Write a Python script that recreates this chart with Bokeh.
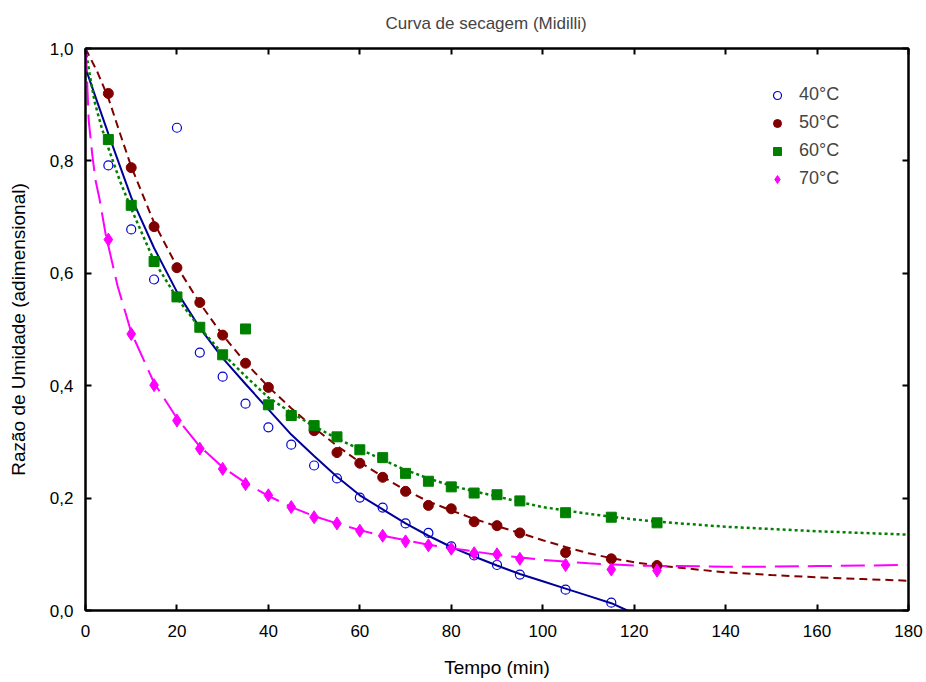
from bokeh.plotting import figure
from bokeh.models import (LinearAxis, FixedTicker, CustomJSTickFormatter, Range1d,
                          Legend, LegendItem)
from bokeh.embed import file_html
from bokeh.resources import INLINE

# ---- experimental data (Tempo em min, Razão de Umidade) ----
t40 = [5, 10, 15, 20, 25, 30, 35, 40, 45, 50, 55, 60, 65, 70, 75, 80, 85, 90, 95, 105, 115]
mr40 = [0.792, 0.678, 0.589, 0.859, 0.459, 0.416, 0.368, 0.326, 0.295, 0.258, 0.235,
        0.201, 0.183, 0.155, 0.138, 0.114, 0.098, 0.081, 0.064, 0.037, 0.014]

t50 = [5, 10, 15, 20, 25, 30, 35, 40, 45, 50, 55, 60, 65, 70, 75, 80, 85, 90, 95, 105, 115, 125]
mr50 = [0.920, 0.788, 0.683, 0.610, 0.548, 0.490, 0.440, 0.397, 0.347, 0.320, 0.281,
        0.262, 0.237, 0.212, 0.187, 0.181, 0.158, 0.151, 0.138, 0.103, 0.092, 0.080]

t60 = [5, 10, 15, 20, 25, 30, 35, 40, 45, 50, 55, 60, 65, 70, 75, 80, 85, 90, 95, 105, 115, 125]
mr60 = [0.838, 0.721, 0.621, 0.558, 0.504, 0.455, 0.501, 0.366, 0.347, 0.329, 0.309,
        0.286, 0.272, 0.244, 0.230, 0.220, 0.209, 0.206, 0.195, 0.174, 0.166, 0.156]

t70 = [5, 10, 15, 20, 25, 30, 35, 40, 45, 50, 55, 60, 65, 70, 75, 80, 85, 90, 95, 105, 115, 125]
mr70 = [0.660, 0.492, 0.401, 0.338, 0.288, 0.252, 0.225, 0.205, 0.184, 0.166, 0.155,
        0.142, 0.133, 0.123, 0.116, 0.110, 0.102, 0.100, 0.092, 0.081, 0.073, 0.071]

# ---- fitted Midilli curves ----
ft40 = [0, 5, 10, 15, 20, 25, 30, 35, 40, 45, 50, 55, 60, 65, 70, 75, 80, 85, 90, 95,
        100, 105, 110, 115, 118.5]
fmr40 = [0.965, 0.848, 0.735, 0.645, 0.567, 0.503, 0.449, 0.403, 0.358, 0.313, 0.275,
         0.238, 0.205, 0.180, 0.155, 0.133, 0.113, 0.096, 0.080, 0.065, 0.052, 0.039,
         0.026, 0.013, 0.0]

ft50 = [0, 2.5, 5, 7.5, 10, 15, 20, 25, 30, 35, 40, 45, 50, 55, 60, 65, 70, 75, 80, 85,
        90, 95, 100, 105, 110, 115, 120, 125, 130, 140, 150, 160, 170, 180]
fmr50 = [1.0, 0.960, 0.912, 0.850, 0.790, 0.690, 0.612, 0.547, 0.490, 0.441, 0.398,
         0.360, 0.325, 0.293, 0.264, 0.238, 0.214, 0.194, 0.178, 0.163, 0.150, 0.138,
         0.125, 0.113, 0.102, 0.093, 0.086, 0.080, 0.076, 0.068, 0.063, 0.059, 0.056, 0.053]

ft60 = [0, 1, 2, 3.5, 5, 7.5, 10, 15, 20, 25, 30, 35, 40, 45, 50, 55, 60, 65, 70, 75, 80,
        85, 90, 95, 100, 110, 120, 130, 140, 150, 160, 170, 180]
fmr60 = [1.0, 0.950, 0.905, 0.860, 0.823, 0.765, 0.715, 0.622, 0.556, 0.503, 0.457,
         0.417, 0.379, 0.352, 0.328, 0.306, 0.287, 0.268, 0.250, 0.235, 0.222, 0.212,
         0.203, 0.193, 0.184, 0.172, 0.162, 0.155, 0.149, 0.145, 0.141, 0.138, 0.135]

ft70 = [0, 0.2, 0.7, 1.5, 2.2, 3, 4.4, 7, 10, 15, 20, 25, 30, 35, 40, 45, 50, 55, 60, 65,
        70, 75, 80, 90, 100, 110, 120, 130, 140, 150, 160, 170, 180]
fmr70 = [1.0, 0.975, 0.872, 0.810, 0.765, 0.735, 0.670, 0.578, 0.495, 0.405, 0.342,
         0.292, 0.255, 0.227, 0.204, 0.184, 0.168, 0.155, 0.143, 0.133, 0.125, 0.117,
         0.111, 0.099, 0.090, 0.084, 0.080, 0.079, 0.078, 0.078, 0.079, 0.080, 0.081]

x_ticks = [0, 20, 40, 60, 80, 100, 120, 140, 160, 180]
y_ticks = [0.0, 0.2, 0.4, 0.6, 0.8, 1.0]
labels = ["40°C", "50°C", "60°C", "70°C"]

FONT = "Liberation Sans"

p = figure(width=926, height=682, x_range=Range1d(0, 180), y_range=Range1d(0, 1.0),
           output_backend="svg", toolbar_location=None,
           min_border_left=85, min_border_right=18, min_border_top=48, min_border_bottom=72,
           x_axis_location=None, y_axis_location=None,
           title="Curva de secagem (Midilli)")
p.title.align = "left"
p.title.offset = 300
p.title.vertical_align = "top"
p.title.text_font = FONT
p.title.text_font_size = "17px"
p.title.text_font_style = "normal"
p.title.standoff = 27
p.xgrid.grid_line_color = None
p.ygrid.grid_line_color = None
p.outline_line_color = "black"
p.outline_line_width = 2
p.background_fill_color = "white"

fmt_y = CustomJSTickFormatter(code="return tick.toFixed(1).replace('.', ',');")
fmt_blank = CustomJSTickFormatter(code="return '';")

bottom = LinearAxis(ticker=FixedTicker(ticks=x_ticks), axis_label="Tempo (min)",
                    major_label_standoff=14, axis_label_standoff=17)
left = LinearAxis(ticker=FixedTicker(ticks=y_ticks), formatter=fmt_y,
                  axis_label="Razão de Umidade (adimensional)",
                  major_label_standoff=12, axis_label_standoff=18)
top = LinearAxis(ticker=FixedTicker(ticks=x_ticks), formatter=fmt_blank,
                 major_label_standoff=0)
right = LinearAxis(ticker=FixedTicker(ticks=y_ticks), formatter=fmt_blank,
                   major_label_standoff=0)
p.add_layout(bottom, "below")
p.add_layout(left, "left")
p.add_layout(top, "above")
p.add_layout(right, "right")

for ax in [bottom, left, top, right]:
    ax.major_tick_in = 6
    ax.major_tick_out = 0
    ax.minor_tick_line_color = None
    ax.axis_line_width = 2
    ax.major_tick_line_width = 2
    ax.axis_line_color = "black"
    ax.major_tick_line_color = "black"
    ax.major_label_text_font = FONT
    ax.major_label_text_color = "black"
    ax.axis_label_text_font = FONT
    ax.axis_label_text_font_style = "normal"
    ax.axis_label_text_color = "black"
for ax in [bottom, left]:
    ax.major_label_text_font_size = "17px"
    ax.axis_label_text_font_size = "19px"

# fitted curves
p.line(ft40, fmr40, line_color="#000099", line_width=2)
p.line(ft50, fmr50, line_color="#800000", line_width=2, line_dash="8 5")
p.line(ft60, fmr60, line_color="#008000", line_width=2.5, line_dash="3 3")
p.line(ft70, fmr70, line_color="#FF00FF", line_width=2, line_dash="24 9")

# data points
r40 = p.scatter(t40, mr40, marker="circle", size=9, fill_color=None,
                line_color="#0000CC", line_width=1.2)
r50 = p.scatter(t50, mr50, marker="circle", size=10, fill_color="#800000",
                line_color="#800000")
r60 = p.scatter(t60, mr60, marker="square", size=10, fill_color="#008000",
                line_color="#008000")
r70 = p.scatter(t70, mr70, marker="diamond", size=13,
                fill_color="#FF00FF", line_color="#FF00FF")

legend = Legend(items=[LegendItem(label=labels[0], renderers=[r40]),
                       LegendItem(label=labels[1], renderers=[r50]),
                       LegendItem(label=labels[2], renderers=[r60]),
                       LegendItem(label=labels[3], renderers=[r70])],
                location=(682, 421))
legend.border_line_color = None
legend.background_fill_alpha = 0
legend.glyph_width = 20
legend.glyph_height = 20
legend.label_height = 20
legend.spacing = 7
legend.padding = 0
legend.margin = 0
legend.label_standoff = 12
legend.label_text_font = FONT
legend.label_text_font_size = "18px"
p.add_layout(legend)

open("out.html", "w").write(file_html(p, INLINE))
